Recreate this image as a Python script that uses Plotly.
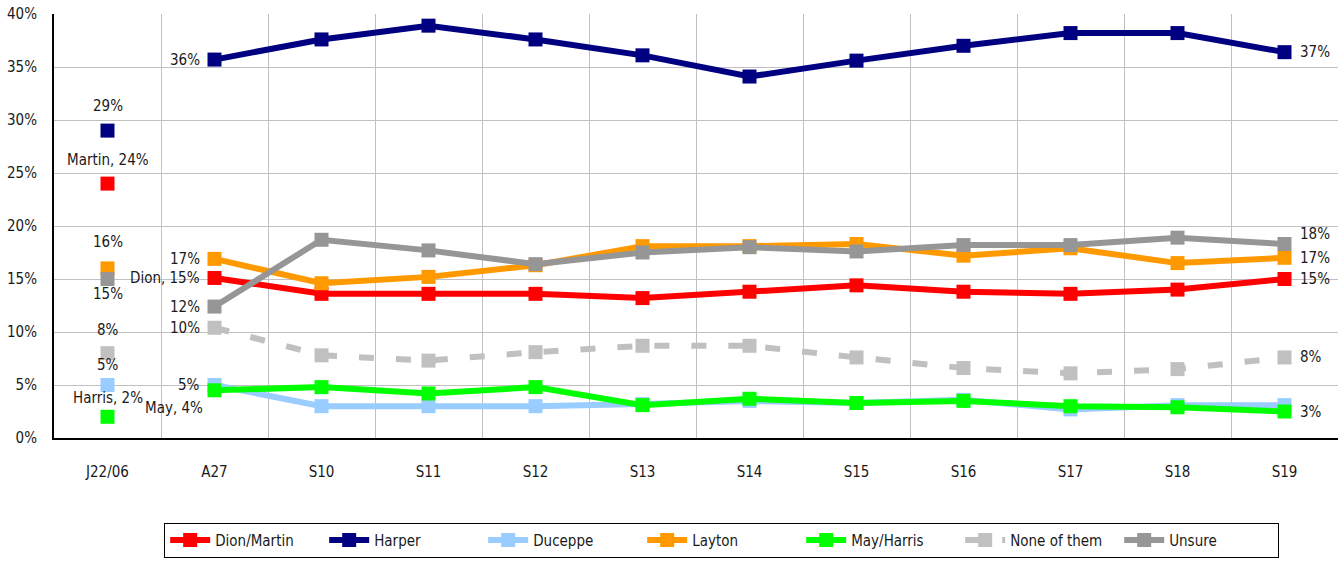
import plotly.graph_objects as go

categories = ["J22/06", "A27", "S10", "S11", "S12", "S13", "S14", "S15", "S16", "S17", "S18", "S19"]
line_dates = categories[1:]

dion = [15.1, 13.6, 13.6, 13.6, 13.2, 13.8, 14.4, 13.8, 13.6, 14.0, 15.0]
harper = [35.7, 37.6, 38.9, 37.6, 36.1, 34.1, 35.6, 37.0, 38.2, 38.2, 36.4]
duceppe = [5.0, 3.0, 3.0, 3.0, 3.2, 3.5, 3.3, 3.6, 2.7, 3.1, 3.1]
layton = [16.9, 14.6, 15.2, 16.3, 18.1, 18.1, 18.3, 17.2, 17.9, 16.5, 17.0]
may = [4.5, 4.8, 4.2, 4.8, 3.1, 3.7, 3.3, 3.5, 3.0, 2.9, 2.5]
none_of_them = [10.4, 7.8, 7.3, 8.1, 8.7, 8.7, 7.6, 6.6, 6.1, 6.5, 7.6]
unsure = [12.4, 18.7, 17.7, 16.4, 17.5, 18.0, 17.6, 18.2, 18.2, 18.9, 18.3]

# Jan 22 2006 reference points
j22_values = [24, 29, 5, 16, 2, 8, 15]

series_names = ["Dion/Martin", "Harper", "Duceppe", "Layton", "May/Harris", "None of them", "Unsure"]
series_values = [dion, harper, duceppe, layton, may, none_of_them, unsure]
colors = ["#ff0000", "#000080", "#99ccff", "#ff9900", "#00ff00", "#c0c0c0", "#969696"]
dashes = ["solid", "solid", "solid", "solid", "solid", "15px,22px", "solid"]

start_labels = ["Dion, 15%", "36%", "5%", "17%", "May, 4%", "10%", "12%"]
end_labels = ["15%", "37%", "", "17%", "3%", "8%", "18%"]
j22_labels = ["Martin, 24%", "29%", "5%", "16%", "Harris, 2%", "8%", "15%"]

# label offsets (styling)
start_yshift = [0, 0, 0, 0, -18, 0, 0]
start_xshift = [-13, -13, -13, -13, -10, -13, -13]
end_yshift = [0, 0, 0, 0, 0, 0, 10]
j22_yshift = [24, 25, 20, 26, 19, 23, -15]

FONT = "Liberation Sans Narrow, DejaVu Sans Condensed, Arial Narrow, sans-serif"
TXT = "#1a1a1a"
FS = 15

fig = go.Figure()

for name, vals, col, dash in zip(series_names, series_values, colors, dashes):
    fig.add_trace(go.Scatter(
        x=line_dates, y=vals, name=name, mode="lines+markers",
        line=dict(color=col, width=6, dash=dash),
        marker=dict(symbol="square", size=14, color=col),
        cliponaxis=False,
    ))

for name, col, v in zip(series_names, colors, j22_values):
    fig.add_trace(go.Scatter(
        x=[categories[0]], y=[v], mode="markers", showlegend=False,
        marker=dict(symbol="square", size=14, color=col),
        cliponaxis=False, name=name,
    ))

annotations = []
for i, vals in enumerate(series_values):
    annotations.append(dict(x=line_dates[0], y=vals[0], text=start_labels[i], showarrow=False,
                            xanchor="right", yanchor="middle",
                            xshift=start_xshift[i], yshift=start_yshift[i]))
    if end_labels[i]:
        annotations.append(dict(x=line_dates[-1], y=vals[-1], text=end_labels[i], showarrow=False,
                                xanchor="left", yanchor="middle",
                                xshift=13, yshift=end_yshift[i]))
    annotations.append(dict(x=categories[0], y=j22_values[i], text=j22_labels[i], showarrow=False,
                            xanchor="center", yanchor="middle", yshift=j22_yshift[i]))

fig.update_layout(
    width=1341, height=565,
    margin=dict(l=54, r=3, t=14, b=127),
    paper_bgcolor="white", plot_bgcolor="white",
    font=dict(family=FONT, size=FS, color=TXT),
    showlegend=True,
    annotations=annotations,
    legend=dict(orientation="h", x=0.52, xanchor="center", y=-0.2, yanchor="top",
                bordercolor="black", borderwidth=1, font=dict(size=FS),
                itemwidth=40, entrywidth=104, entrywidthmode="pixels", tracegroupgap=0),
    xaxis=dict(type="category", categoryorder="array", categoryarray=categories,
               range=[-0.5, 11.5], tickson="boundaries", showgrid=True,
               gridcolor="#c0c0c0", gridwidth=1, automargin=False,
               showline=True, linecolor="black", linewidth=2,
               ticks="", ticklabelstandoff=19,
               tickfont=dict(size=FS), zeroline=False),
    yaxis=dict(range=[0, 40], dtick=5, ticksuffix="%", showgrid=True,
               gridcolor="#c0c0c0", gridwidth=1, automargin=False,
               showline=True, linecolor="black", linewidth=2,
               ticks="outside", ticklen=12, tickcolor="rgba(0,0,0,0)",
               tickfont=dict(size=FS), zeroline=False),
)

fig.write_html("out.html", config={"displayModeBar": False},
               post_script="document.body.style.margin='0px';")
